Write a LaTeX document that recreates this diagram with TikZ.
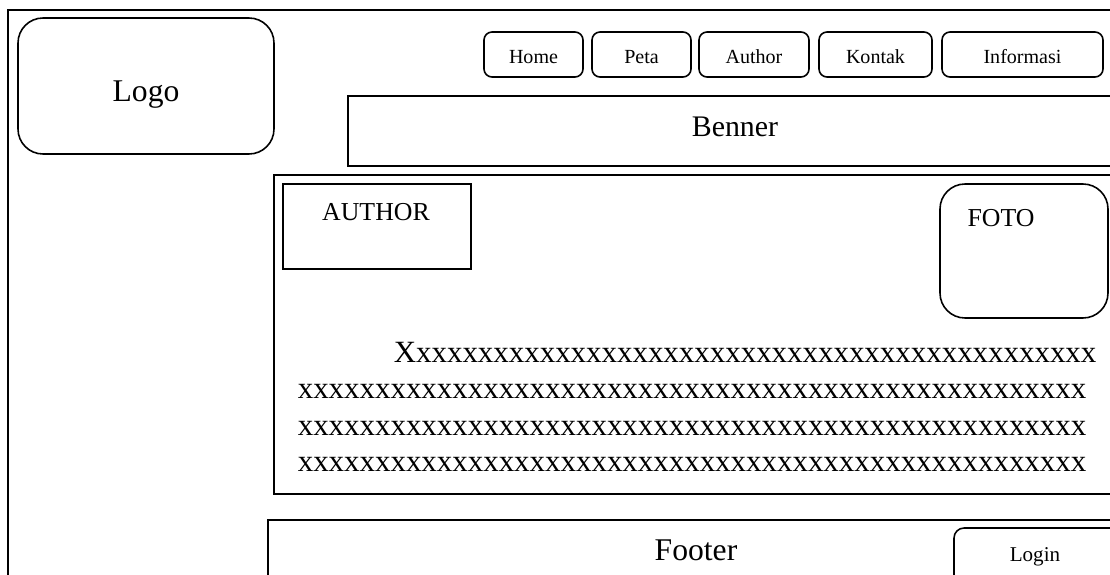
\documentclass[tikz,border=0pt]{standalone}
\usepackage{fontspec}
\setmainfont{Liberation Serif}
\newcommand{\xrow}[1]{\foreach \k in {1,...,#1}{x}}

\begin{document}
\begin{tikzpicture}[x=0.02cm, y=-0.02cm, line width=0.9pt,
    lbl/.style={inner sep=0pt, anchor=base},
    navtext/.style={lbl, font=\fontsize{11.4}{13}\selectfont},
    bodytext/.style={inner sep=0pt, anchor=base west, font=\fontsize{17.6}{20}\selectfont}]
        \useasboundingbox (0,0) rectangle (1110,575);
        \clip (0,0) rectangle (1110,575);
        % page frame
        \draw (8,10) rectangle (1140,600);
        % logo
        \draw[rounded corners=0.5cm] (18,18) rectangle (274,154);
        \node[lbl, font=\fontsize{18}{20}\selectfont] (logo) at (146,101.5) {Logo};
        % menu
        \foreach \name/\txt/\xa/\xb in {home/Home/484/583, peta/Peta/592/691,
            author/Author/699/809, kontak/Kontak/819/932, info/Informasi/942/1103} {
        \draw[rounded corners=0.16cm] (\xa,32) rectangle (\xb,77);
        \node[navtext] (\name) at ({(\xa+\xb)/2},63) {\txt};
        }
        % banner
        \draw (348,96) rectangle (1140,166);
        \node[lbl, font=\fontsize{17}{20}\selectfont] (benner) at (735,136.5) {Benner};
        % content
        \draw (274,175) rectangle (1140,494);
        \draw (283,184) rectangle (471,269);
        \node[lbl, font=\fontsize{14.7}{17}\selectfont] (authortxt) at (376,220) {AUTHOR};
        \draw[rounded corners=0.5cm] (940,184) rectangle (1108,318);
        \node[lbl, font=\fontsize{14.7}{17}\selectfont] (foto) at (1001,226) {FOTO};
        \node[bodytext] (row1) at (393,362) {X\xrow{44}};
        \foreach \y/\n in {398/2, 435/3, 471/4} {
        \node[bodytext] (row\n) at (297,\y) {\xrow{51}};
        }
        % footer
        \draw (268,520) rectangle (1140,600);
        \node[lbl, font=\fontsize{18}{20}\selectfont] (footer) at (696,560) {Footer};
        \draw[rounded corners=0.2cm] (954,528) rectangle (1140,600);
        \node[lbl, font=\fontsize{12}{14}\selectfont] (login) at (1035,561) {Login};
    \end{tikzpicture}
\end{document}
